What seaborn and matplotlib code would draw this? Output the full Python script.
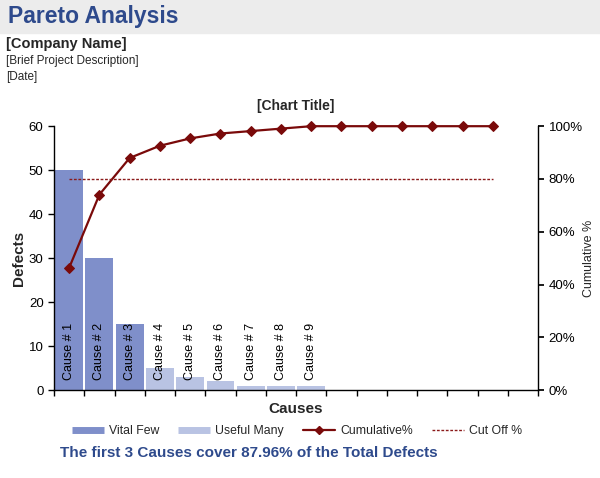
import numpy as np
import pandas as pd
import matplotlib
matplotlib.use('Agg')
import matplotlib.pyplot as plt
import seaborn as sns
from matplotlib.lines import Line2D
from matplotlib.patches import Rectangle

# --- data ---
causes = ['Cause # 1', 'Cause # 2', 'Cause # 3', 'Cause # 4', 'Cause # 5',
          'Cause # 6', 'Cause # 7', 'Cause # 8', 'Cause # 9',
          '', '', '', '', '', '']
defects = [50, 30, 15, 5, 3, 2, 1, 1, 1, 0, 0, 0, 0, 0, 0]
vital_count = 3
cutoff = 80

total = sum(defects)
cum_pct = np.cumsum(defects) / total * 100

df = pd.DataFrame({
    'pos': range(len(defects)),
    'cause': causes,
    'defects': defects,
    'group': ['Vital Few' if i < vital_count else 'Useful Many' for i in range(len(defects))],
    'cum': cum_pct,
})

vital_color = '#7f8fca'
useful_color = '#b9c3e3'
line_color = '#7a0a0a'
title_blue = '#2e4a8c'

sns.set_theme(style='white')
plt.rcParams['font.family'] = ['Liberation Sans', 'DejaVu Sans']

fig = plt.figure(figsize=(6, 4.78), dpi=100)
ax = fig.add_axes([0.09, 0.184, 0.807, 0.552])

sns.barplot(data=df, x='pos', y='defects', hue='group', dodge=False, width=0.92,
            palette={'Vital Few': vital_color, 'Useful Many': useful_color},
            ax=ax, legend=False, saturation=1, linewidth=0)

for i, row in df.iterrows():
    if row['defects'] > 0:
        ax.text(row['pos'], 2.2, row['cause'], rotation=90, ha='center', va='bottom',
                fontsize=9, color='black')

ax.set_xlim(-0.5, len(defects) + 0.5)
ax.set_ylim(0, 60)
ax.set_yticks(range(0, 61, 10))
ax.set_xticks(np.arange(-0.5, len(defects) + 0.6, 1))
ax.set_xticklabels([])
ax.tick_params(axis='both', direction='out', length=4, width=1, colors='black',
               labelsize=9.5, bottom=True, left=True)
ax.set_xlabel('Causes', fontsize=11, fontweight='bold', labelpad=1)
ax.set_ylabel('Defects', fontsize=11, fontweight='bold', labelpad=2)
for s in ['left', 'bottom']:
    ax.spines[s].set_color('black')
    ax.spines[s].set_linewidth(1)
ax.spines['top'].set_visible(False)
ax.spines['right'].set_visible(False)

ax2 = ax.twinx()
sns.lineplot(data=df, x='pos', y='cum', ax=ax2, color=line_color, marker='D',
             markersize=5, markeredgecolor=line_color, linewidth=1.6, clip_on=False)
ax2.hlines(cutoff, df['pos'].iloc[0], df['pos'].iloc[-1], colors='#8b1a1a',
           linestyles=(0, (2, 1.2)), linewidth=1)
ax2.set_ylim(0, 100)
ax2.set_yticks(range(0, 101, 20))
ax2.set_yticklabels([f'{v}%' for v in range(0, 101, 20)])
ax2.tick_params(axis='y', direction='out', length=4, colors='black', labelsize=9.5, right=True)
ax2.set_ylabel('Cumulative %', fontsize=9, labelpad=0)
ax2.spines['right'].set_color('black')
ax2.spines['right'].set_linewidth(1)
for s in ['top', 'left', 'bottom']:
    ax2.spines[s].set_visible(False)
ax2.set_xlabel('')

ax.set_title('[Chart Title]', fontsize=10, fontweight='bold', pad=12)

# header block
fig.patches.append(Rectangle((0, 1 - 33 / 478), 1, 33 / 478, transform=fig.transFigure,
                             color='#ececec', zorder=0))
fig.text(8 / 600, 1 - 17 / 478, 'Pareto Analysis', fontsize=16.5, fontweight='bold',
         color=title_blue, va='center')
fig.text(6 / 600, 1 - 44 / 478, '[Company Name]', fontsize=10.5, fontweight='bold', va='center')
fig.text(6 / 600, 1 - 61 / 478, '[Brief Project Description]', fontsize=8.5, va='center')
fig.text(6 / 600, 1 - 77 / 478, '[Date]', fontsize=8.5, va='center')

handles = [
    Line2D([], [], color=vital_color, linewidth=5, solid_capstyle='butt'),
    Line2D([], [], color=useful_color, linewidth=5, solid_capstyle='butt'),
    Line2D([], [], color=line_color, linewidth=1.6, marker='D', markersize=4),
    Line2D([], [], color='#8b1a1a', linewidth=1, linestyle=(0, (2, 1.2))),
]
labels = ['Vital Few', 'Useful Many', 'Cumulative%', 'Cut Off %']
fig.legend(handles, labels, loc='center', bbox_to_anchor=(0.495, 1 - 431 / 478), ncol=4,
           frameon=False, fontsize=8.8, handlelength=2.6, columnspacing=1.6, handletextpad=0.4)

fig.text(60 / 600, 1 - 453 / 478, 'The first 3 Causes cover 87.96% of the Total Defects',
         fontsize=11, fontweight='bold', color=title_blue, va='center')

fig.savefig('out.png', dpi=100)
